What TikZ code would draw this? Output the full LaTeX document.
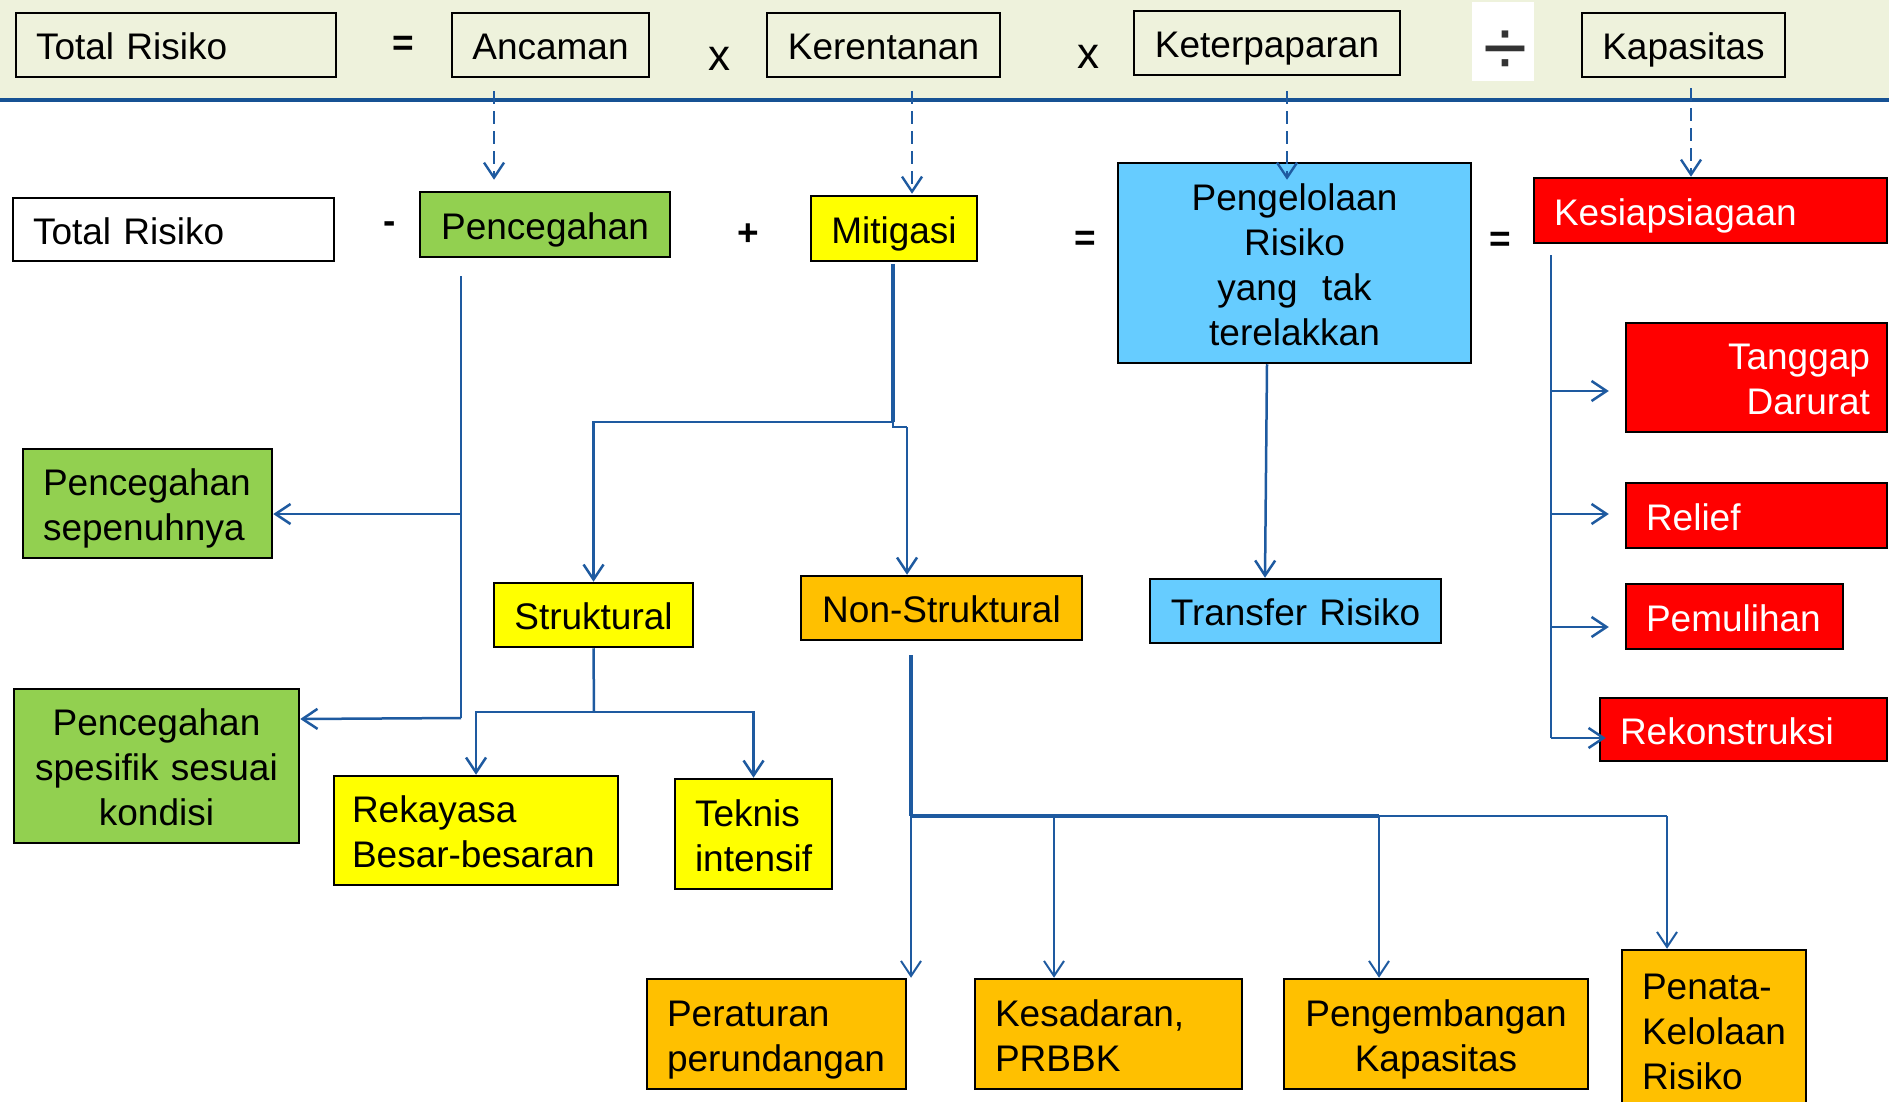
\documentclass[tikz,border=0pt]{standalone}
\usepackage{fontspec}
\setmainfont{Liberation Sans}
\usetikzlibrary{arrows.meta,calc}
\definecolor{band}{RGB}{238,242,220}
\definecolor{hline}{RGB}{22,82,148}
\definecolor{lc}{RGB}{30,90,160}
\definecolor{cgreen}{HTML}{92D050}
\definecolor{cyellow}{HTML}{FFFF00}
\definecolor{corange}{HTML}{FFC000}
\definecolor{lblue}{HTML}{66CCFF}
\definecolor{cred}{HTML}{FF0000}
\newcommand{\pptstrut}{\rule[-7.8pt]{0pt}{44.8pt}}
\begin{document}
\begin{tikzpicture}[x=1pt,y=-1pt,
  every node/.style={font=\fontsize{37}{45}\selectfont,
    execute at begin node={\hyphenpenalty=10000\exhyphenpenalty=10000\pptstrut},
    execute at end node={\pptstrut}},
  box/.style={draw=black, line width=2.5pt, inner ysep=0pt, inner xsep=10pt, align=center},
  lbox/.style={box, inner xsep=20pt, align=left},
  op/.style={inner sep=0pt, font=\fontsize{37}{45}\selectfont\bfseries,
    execute at begin node={}, execute at end node={}},
  opx/.style={inner sep=0pt, font=\fontsize{44}{50}\selectfont,
    execute at begin node={}, execute at end node={}},
  ln/.style={draw=lc, line width=2.5pt},
  arr/.style={-{Straight Barb[length=15pt,width=20pt]}},
  dsh/.style={draw=lc, line width=2.4pt, dash pattern=on 13pt off 7pt}
]
\useasboundingbox (0,0) rectangle (1889,1102);
\clip (0,0) rectangle (1889,1102);
\fill[white] (0,0) rectangle (1889,1102);
\fill[band] (0,0) rectangle (1889,98);
\draw[hline, line width=4pt] (0,100) -- (1889,100);

% top row
\node[lbox, text width=280pt, minimum width=320pt, minimum height=64pt] (tTR) at (176,45) {Total Risiko};
\node[box, text width=177pt, minimum width=197pt, minimum height=64pt] (tAnc) at (550.5,45) {Ancaman};
\node[box, text width=213pt, minimum width=233pt, minimum height=64pt] (tKer) at (883.5,45) {Kerentanan};
\node[box, text width=246pt, minimum width=266pt, minimum height=64pt] (tKet) at (1267,43) {Keterpaparan};
\node[box, text width=183pt, minimum width=203pt, minimum height=64pt] (tKap) at (1683.5,45) {Kapasitas};
\node[op] (oq1) at (403,41) {=};
\node[opx] (ox1) at (719,56) {x};
\node[opx] (ox2) at (1088,54) {x};
\node[fill=white, inner sep=0pt, minimum width=62pt, minimum height=79pt,
  execute at begin node={}, execute at end node={}] (divbg) at (1503,41.5) {};
\node[inner sep=0pt, text=black!80, font=\fontsize{80}{80}\selectfont,
  execute at begin node={}, execute at end node={}] (divsym) at (1505,57) {÷};

% second row
\node[lbox, fill=white, text width=281pt, minimum width=321pt, minimum height=63pt] (TR2) at (173.5,229.5) {Total Risiko};
\node[box, fill=cgreen, text width=230pt, minimum width=250pt, minimum height=65pt] (Pcg) at (545,224.5) {Pencegahan};
\node[box, fill=cyellow, text width=146pt, minimum width=166pt, minimum height=65pt] (Mit) at (894,228.5) {Mitigasi};
\node[box, fill=lblue, text width=333pt, minimum width=353pt, minimum height=200pt] (PRT) at (1294.5,263) {Pengelolaan\\Risiko\\yang\ \ tak\\terelakkan};
\node[lbox, fill=cred, text=white, text width=313pt, minimum width=353pt, minimum height=65pt] (Ksp) at (1710.5,210.5) {Kesiapsiagaan};
\node[op] (om) at (390,219) {-};
\node[op] (op) at (748,231) {+};
\node[op] (oq2) at (1085,236) {=};
\node[op] (oq3) at (1500,237) {=};

% third row
\node[lbox, fill=cgreen, text width=209pt, minimum width=249pt, minimum height=109pt] (PS) at (147.5,503.5) {Pencegahan\\sepenuhnya};
\node[box, fill=cgreen, text width=265pt, minimum width=285pt, minimum height=154pt] (PSSK) at (156.5,766) {Pencegahan\\spesifik sesuai\\kondisi};
\node[box, fill=cyellow, text width=179pt, minimum width=199pt, minimum height=64pt] (Str) at (593.5,615) {Struktural};
\node[box, fill=corange, text width=261pt, minimum width=281pt, minimum height=64pt] (NS) at (941.5,608) {Non-Struktural};
\node[box, fill=lblue, text width=271pt, minimum width=291pt, minimum height=64pt] (TRs) at (1295.5,611) {Transfer Risiko};
\node[box, fill=cred, text=white, align=right, inner xsep=17pt, text width=227pt, minimum width=261pt, minimum height=109pt] (TD) at (1756.5,377.5) {Tanggap\\Darurat};
\node[lbox, fill=cred, text=white, text width=221pt, minimum width=261pt, minimum height=65pt] (Rel) at (1756.5,515.5) {Relief};
\node[lbox, fill=cred, text=white, text width=177pt, minimum width=217pt, minimum height=65pt] (Pem) at (1734.5,616.5) {Pemulihan};
\node[lbox, fill=cred, text=white, text width=247pt, minimum width=287pt, minimum height=63pt] (Rek) at (1743.5,729.5) {Rekonstruksi};

% fourth row
\node[lbox, fill=cyellow, inner xsep=18pt, text width=248pt, minimum width=284pt, minimum height=109pt] (RB) at (476,830.5) {Rekayasa\\Besar-besaran};
\node[lbox, fill=cyellow, text width=117pt, minimum width=157pt, minimum height=110pt] (TI) at (753.5,834) {Teknis\\intensif};
\node[lbox, fill=corange, text width=219pt, minimum width=259pt, minimum height=110pt] (PP) at (776.5,1034) {Peraturan\\perundangan};
\node[lbox, fill=corange, text width=227pt, minimum width=267pt, minimum height=110pt] (KP) at (1108.5,1034) {Kesadaran,\\PRBBK};
\node[box, fill=corange, text width=284pt, minimum width=304pt, minimum height=110pt] (PK) at (1436,1034) {Pengembangan\\Kapasitas};
\node[lbox, fill=corange, text width=144pt, minimum width=184pt, minimum height=160pt] (PKR) at (1714,1030) {Penata-\\Kelolaan\\Risiko};

% dashed arrows from the top row
\draw[dsh,arr] ($(tAnc.south)+(-56.5,13)$) -- ($(Pcg.north)+(-51,-11)$);
\draw[dsh,arr] ($(tKer.south)+(28.5,13)$) -- ($(Mit.north)+(18,-1)$);
\draw[dsh,arr] ($(tKet.south)+(20,15)$) -- ($(PRT.north)+(-7.5,18)$);
\draw[dsh,arr] ($(tKap.south)+(7.5,10)$) -- ($(Ksp.north)+(-19.5,0)$);

% Pencegahan tree
\coordinate (pcA) at ($(Pcg.south)+(-84,18)$);
\coordinate (pcB) at (461,514);
\coordinate (pcC) at (461,718);
\draw[ln] (pcA) -- (pcC);
\draw[ln,arr] (pcB) -- (pcB -| PS.east);
\draw[ln,arr] (pcC) -- ($(pcC -| PSSK.east)+(0,1)$);

% Mitigasi tree
\coordinate (mA) at (893,422);
\coordinate (mB) at (907,427);
\draw[ln, line width=4pt] ($(Mit.south)+(-1,2)$) -- (mA);
\draw[ln,arr] (mA) -| (Str.north);
\draw[ln] (mA) -- (893,427) -- (mB);
\draw[ln,arr] (mB) -- (mB |- NS.north);

% Pengelolaan -> Transfer
\draw[ln,arr] ($(PRT.south)+(-27.5,0)$) -- ($(TRs.north)+(-30.5,0)$);

% Kesiapsiagaan tree
\coordinate (kA) at (1551,255);
\coordinate (k1) at (1551,391);
\coordinate (k2) at (1551,514);
\coordinate (k3) at (1551,627);
\coordinate (k4) at (1551,738);
\draw[ln] (kA) -- (k4);
\draw[ln,arr] (k1) -- ($(k1 -| TD.west)+(-16,0)$);
\draw[ln,arr] (k2) -- ($(k2 -| Rel.west)+(-16,0)$);
\draw[ln,arr] (k3) -- ($(k3 -| Pem.west)+(-16,0)$);
\draw[ln,arr] (k4) -- ($(k4 -| Rek.west)+(7,0)$);

% Struktural tree
\coordinate (sA) at (594,712);
\draw[ln] (Str.south) -- (sA);
\draw[ln,arr] (sA) -| (RB.north);
\draw[ln,arr] (sA) -| (TI.north);

% Non-Struktural tree
\coordinate (nA) at ($(NS.south)+(-30.5,14)$);
\coordinate (n1) at (911,816);
\coordinate (n2) at (1054,816);
\coordinate (n3) at (1379,816);
\coordinate (n4) at (1667,816);
\draw[ln, line width=4.5pt] (nA) -- (n1);
\draw[ln, line width=3.5pt] (n1) -- (n3);
\draw[ln, line width=2pt] (n3) -- (n4);
\draw[ln,line width=2pt,arr] (n1) -- (n1 |- PP.north);
\draw[ln,line width=2pt,arr] (n2) -- (n2 |- KP.north);
\draw[ln,line width=2pt,arr] (n3) -- (n3 |- PK.north);
\draw[ln,line width=2pt,arr] (n4) -- (n4 |- PKR.north);
\end{tikzpicture}
\end{document}
